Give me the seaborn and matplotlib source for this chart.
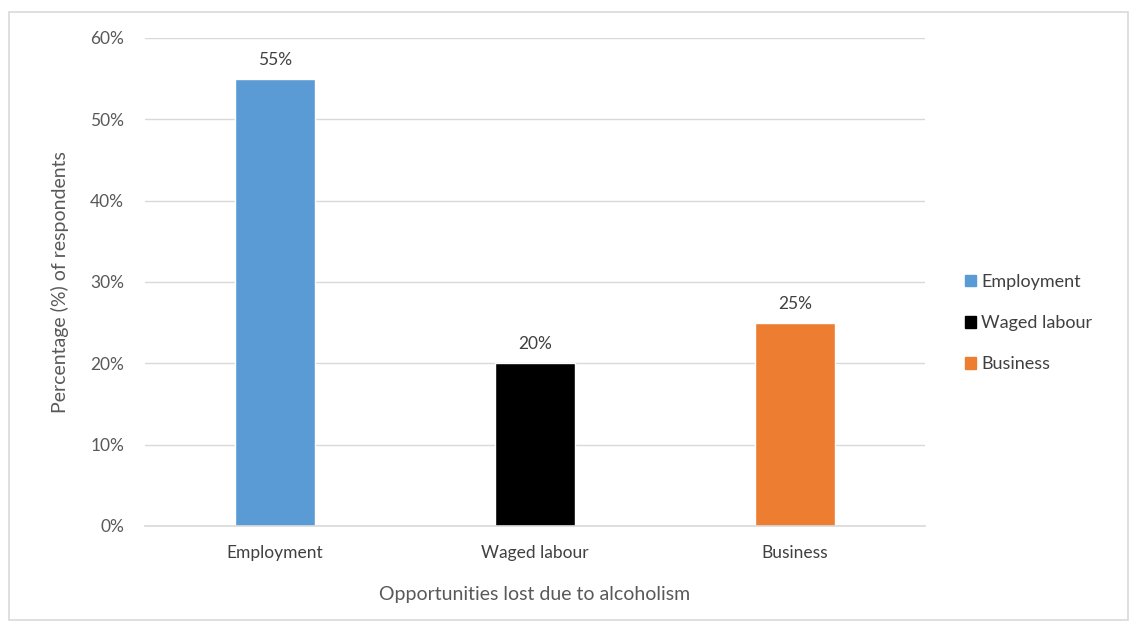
import matplotlib
matplotlib.use("Agg")
import matplotlib.pyplot as plt
import matplotlib.patches as mpatches
import seaborn as sns
import pandas as pd

categories = ["Employment", "Waged labour", "Business"]
values = [55, 20, 25]
colors = ["#5B9BD5", "#000000", "#ED7D31"]
y_ticks = [0, 10, 20, 30, 40, 50, 60]

sns.set_theme(style="white")
plt.rcParams["font.family"] = ["Lato", "DejaVu Sans"]

text_color = "#595959"
grid_color = "#D9D9D9"

df = pd.DataFrame({"category": categories, "value": values})

fig = plt.figure(figsize=(11.36, 6.3), dpi=100)
ax = fig.add_axes([0.1276, 0.1651, 0.6866, 0.7746])

sns.barplot(data=df, x="category", y="value", hue="category",
            palette=dict(zip(categories, colors)), width=0.31,
            dodge=False, legend=False, ax=ax, saturation=1)

ax.set_xlim(-0.5, 2.5)
ax.set_ylim(0, 60)
ax.set_yticks(y_ticks)
ax.set_yticklabels([f"{t}%" for t in y_ticks])
ax.yaxis.grid(True, color=grid_color, linewidth=1)
ax.set_axisbelow(True)
for side in ["top", "right", "left"]:
    ax.spines[side].set_visible(False)
ax.spines["bottom"].set_color(grid_color)
ax.spines["bottom"].set_linewidth(1.2)
ax.tick_params(axis="both", length=0, labelsize=12.5, colors=text_color)
ax.tick_params(axis="x", pad=14)
ax.tick_params(axis="y", pad=15)
for lbl in ax.get_xticklabels():
    lbl.set_color("#404040")
    lbl.set_fontsize(12.5)

for container in ax.containers:
    ax.bar_label(container, labels=[f"{v:.0f}%" for v in container.datavalues],
                 padding=8, fontsize=12.5, color="#404040")

ax.set_xlabel("Opportunities lost due to alcoholism", fontsize=14,
              color=text_color, labelpad=18)
ax.set_ylabel("Percentage (%) of respondents", fontsize=14,
              color=text_color, labelpad=15)

handles = [mpatches.Patch(color=c, label=n) for c, n in zip(colors, categories)]
fig.legend(handles=handles, loc="center left", bbox_to_anchor=(0.835, 0.487),
           frameon=False, fontsize=13, handlelength=0.6, handleheight=0.6,
           handletextpad=0.3, labelspacing=1.4, labelcolor="#404040")

# outer chart border
fig.patches.append(mpatches.Rectangle((0.008, 0.016), 0.985, 0.965,
                                      transform=fig.transFigure, fill=False,
                                      edgecolor=grid_color, linewidth=1.2))

fig.savefig("out.png", dpi=100, facecolor="white")
